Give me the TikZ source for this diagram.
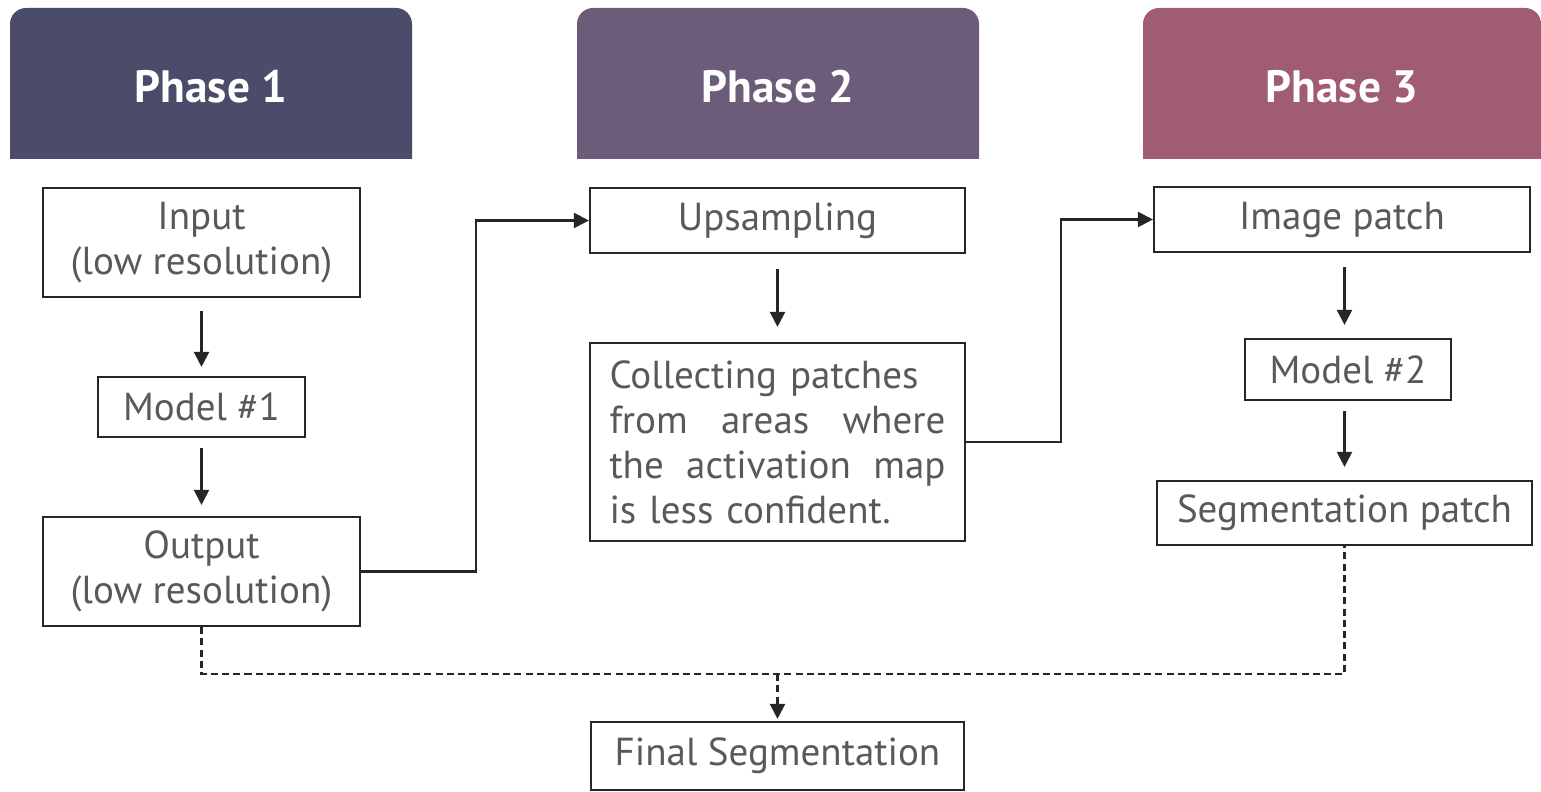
\documentclass[tikz,border=0pt]{standalone}
\usepackage{fontspec}
\setsansfont{PT Sans}
\usepackage{xcolor}
\definecolor{phaseone}{RGB}{75,75,106}
\definecolor{phasetwo}{RGB}{108,92,122}
\definecolor{phasethree}{RGB}{160,92,112}
\definecolor{boxtext}{RGB}{89,89,89}
\definecolor{boxline}{RGB}{38,38,38}
\usepackage{tikz}
\usetikzlibrary{positioning, arrows.meta, calc}
% a justified line of three words
\newcommand{\spreadline}[3]{\makebox[3.36cm]{#1\hfill#2\hfill#3}}
% header bar with only the top corners rounded
\newcommand{\phasebar}[3]{%
    \fill[#3] (#1,-1.59) [rounded corners=0.16cm] -- (#1,-0.08) -- (#2,-0.08) [sharp corners] -- (#2,-1.59) -- cycle;}

\begin{document}
\begin{tikzpicture}[
    % GLOBAL CFG
    font=\sffamily\fontsize{11.1}{12.8}\selectfont,
    >={Triangle[length=1.5mm, width=1.5mm]},
    % Styles
    phase/.style={% For the header text
        text=white,
        font=\sffamily\bfseries\fontsize{12.9}{14}\selectfont,
        },
    step box/.style={% For the process boxes
        rectangle,
        draw=boxline,
        line width=0.6pt,
        text=boxtext,
        inner sep=0pt,
        align=center,
        },
    flow/.style={% Solid arrows
        ->,
        draw=boxline,
        line width=0.6pt,
        },
    merge line/.style={% Dashed lines to the final box
        draw=boxline,
        line width=0.6pt,
        dash pattern=on 2pt off 1.2pt,
        },
    ]

    \useasboundingbox (0,0) rectangle (15.41,-7.92);

    % Draw the headers
    \phasebar{0.10}{4.12}{phaseone}
    \phasebar{5.77}{9.79}{phasetwo}
    \phasebar{11.43}{15.41}{phasethree}
    \node [phase] (head1) at (2.11,-0.87) {Phase 1};
    \node [phase] (head2) at (7.78,-0.87) {Phase 2};
    \node [phase] (head3) at (13.42,-0.87) {Phase 3};

    % Phase 1 boxes
    \node [step box, minimum width=3.17cm, minimum height=1.09cm] (input) at (2.015,-2.425) {Input\\(low resolution)};
    \node [step box, minimum width=2.07cm, minimum height=0.60cm] (model1) at (2.015,-4.07) {Model \#1};
    \node [step box, minimum width=3.17cm, minimum height=1.09cm] (output) at (2.015,-5.715) {Output\\(low resolution)};

    % Phase 2 boxes
    \node [step box, minimum width=3.75cm, minimum height=1.98cm, text width=3.36cm, align=left] (collect) at (7.775,-4.42)
        {Collecting patches\\\spreadline{from}{areas}{where}\\\spreadline{the}{activation}{map}\\is less confident.};
    \node [step box, minimum width=3.75cm, minimum height=0.65cm] (upsamp) at (7.775,-2.205) {Upsampling};

    % Phase 3 boxes
    \node [step box, minimum width=3.76cm, minimum height=0.65cm] (imgpatch) at (13.42,-2.195) {Image patch};
    \node [step box, minimum width=2.06cm, minimum height=0.61cm] (model2) at (13.48,-3.695) {Model \#2};
    \node [step box, minimum width=3.75cm, minimum height=0.64cm] (segpatch) at (13.445,-5.13) {Segmentation patch};

    % Result
    \node [step box, minimum width=3.73cm, minimum height=0.68cm] (final) at (7.775,-7.56) {Final Segmentation};

    % Arrows inside the phases
    \draw [flow, shorten <=0.13cm, shorten >=0.09cm] (input) -- (model1);
    \draw [flow, shorten <=0.10cm, shorten >=0.11cm] (model1) -- (output);
    \draw [flow, shorten <=0.15cm, shorten >=0.15cm] (upsamp) -- (collect);
    \draw [flow, shorten <=0.14cm, shorten >=0.13cm] (imgpatch.south -| segpatch) -- (model2.north -| segpatch);
    \draw [flow, shorten <=0.10cm, shorten >=0.13cm] (model2.south -| segpatch) -- (segpatch);

    % Arrows between the phases
    \draw [flow] (output.east) -- ++(1.15,0) |- (upsamp.west);
    \draw [flow] (collect.east) -- ++(0.95,0) |- (imgpatch.west);

    % Dashed merge into the final box
    \coordinate (merge) at ($(output.south)+(0,-0.47)$);
    \draw [merge line] (output.south) -- (merge) -| (segpatch.south);
    \draw [merge line, ->, shorten >=0.02cm] (final.north |- merge) -- (final.north);

\end{tikzpicture}
\end{document}
